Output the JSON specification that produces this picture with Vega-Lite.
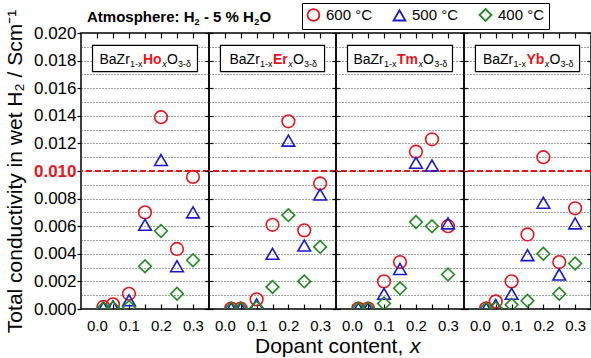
{
"$schema": "https://vega.github.io/schema/vega-lite/v6.json",
"padding": {"left": 3, "top": 2, "right": 0, "bottom": 0},
"spacing": 0,
"bounds": "flush",
"config": {"font": "Liberation Sans", "view": {"stroke": "black", "strokeWidth": 1.5}, "concat": {"spacing": 0}, "text": {"font": "Liberation Sans", "color": "black"}},
"datasets": {"pts": [
{"d":"Ho","T":"600 °C","x":0.02,"y":0.00015},{"d":"Ho","T":"600 °C","x":0.05,"y":0.00034},{"d":"Ho","T":"600 °C","x":0.1,"y":0.0011},{"d":"Ho","T":"600 °C","x":0.15,"y":0.0070},{"d":"Ho","T":"600 °C","x":0.2,"y":0.0139},{"d":"Ho","T":"600 °C","x":0.25,"y":0.00435},{"d":"Ho","T":"600 °C","x":0.3,"y":0.00957},
{"d":"Ho","T":"500 °C","x":0.02,"y":0.0001},{"d":"Ho","T":"500 °C","x":0.05,"y":0.0002},{"d":"Ho","T":"500 °C","x":0.1,"y":0.00063},{"d":"Ho","T":"500 °C","x":0.15,"y":0.0061},{"d":"Ho","T":"500 °C","x":0.2,"y":0.0108},{"d":"Ho","T":"500 °C","x":0.25,"y":0.0031},{"d":"Ho","T":"500 °C","x":0.3,"y":0.0070},
{"d":"Ho","T":"400 °C","x":0.02,"y":0.00005},{"d":"Ho","T":"400 °C","x":0.05,"y":0.0001},{"d":"Ho","T":"400 °C","x":0.1,"y":0.00015},{"d":"Ho","T":"400 °C","x":0.15,"y":0.0031},{"d":"Ho","T":"400 °C","x":0.2,"y":0.00565},{"d":"Ho","T":"400 °C","x":0.25,"y":0.0011},{"d":"Ho","T":"400 °C","x":0.3,"y":0.00353},
{"d":"Er","T":"600 °C","x":0.02,"y":0.00003},{"d":"Er","T":"600 °C","x":0.05,"y":0.00003},{"d":"Er","T":"600 °C","x":0.1,"y":0.0007},{"d":"Er","T":"600 °C","x":0.15,"y":0.0061},{"d":"Er","T":"600 °C","x":0.2,"y":0.0136},{"d":"Er","T":"600 °C","x":0.25,"y":0.0057},{"d":"Er","T":"600 °C","x":0.3,"y":0.0091},
{"d":"Er","T":"500 °C","x":0.02,"y":0.00005},{"d":"Er","T":"500 °C","x":0.05,"y":0.00005},{"d":"Er","T":"500 °C","x":0.1,"y":0.00034},{"d":"Er","T":"500 °C","x":0.15,"y":0.0040},{"d":"Er","T":"500 °C","x":0.2,"y":0.0122},{"d":"Er","T":"500 °C","x":0.25,"y":0.0046},{"d":"Er","T":"500 °C","x":0.3,"y":0.0083},
{"d":"Er","T":"400 °C","x":0.02,"y":0.00002},{"d":"Er","T":"400 °C","x":0.05,"y":0.00002},{"d":"Er","T":"400 °C","x":0.1,"y":0.0001},{"d":"Er","T":"400 °C","x":0.15,"y":0.0016},{"d":"Er","T":"400 °C","x":0.2,"y":0.0068},{"d":"Er","T":"400 °C","x":0.25,"y":0.0020},{"d":"Er","T":"400 °C","x":0.3,"y":0.0045},
{"d":"Tm","T":"600 °C","x":0.02,"y":0.00003},{"d":"Tm","T":"600 °C","x":0.05,"y":0.00003},{"d":"Tm","T":"600 °C","x":0.1,"y":0.0020},{"d":"Tm","T":"600 °C","x":0.15,"y":0.0034},{"d":"Tm","T":"600 °C","x":0.2,"y":0.0114},{"d":"Tm","T":"600 °C","x":0.25,"y":0.0123},{"d":"Tm","T":"600 °C","x":0.3,"y":0.0060},
{"d":"Tm","T":"500 °C","x":0.02,"y":0.00005},{"d":"Tm","T":"500 °C","x":0.05,"y":0.00005},{"d":"Tm","T":"500 °C","x":0.1,"y":0.0011},{"d":"Tm","T":"500 °C","x":0.15,"y":0.0029},{"d":"Tm","T":"500 °C","x":0.2,"y":0.0106},{"d":"Tm","T":"500 °C","x":0.25,"y":0.0104},{"d":"Tm","T":"500 °C","x":0.3,"y":0.0062},
{"d":"Tm","T":"400 °C","x":0.02,"y":0.00002},{"d":"Tm","T":"400 °C","x":0.05,"y":0.00002},{"d":"Tm","T":"400 °C","x":0.1,"y":0.0004},{"d":"Tm","T":"400 °C","x":0.15,"y":0.0015},{"d":"Tm","T":"400 °C","x":0.2,"y":0.0063},{"d":"Tm","T":"400 °C","x":0.25,"y":0.0060},{"d":"Tm","T":"400 °C","x":0.3,"y":0.0025},
{"d":"Yb","T":"600 °C","x":0.02,"y":0.00005},{"d":"Yb","T":"600 °C","x":0.05,"y":0.00055},{"d":"Yb","T":"600 °C","x":0.1,"y":0.0020},{"d":"Yb","T":"600 °C","x":0.15,"y":0.0054},{"d":"Yb","T":"600 °C","x":0.2,"y":0.0110},{"d":"Yb","T":"600 °C","x":0.25,"y":0.0034},{"d":"Yb","T":"600 °C","x":0.3,"y":0.0073},
{"d":"Yb","T":"500 °C","x":0.02,"y":0.00005},{"d":"Yb","T":"500 °C","x":0.05,"y":0.0003},{"d":"Yb","T":"500 °C","x":0.1,"y":0.0011},{"d":"Yb","T":"500 °C","x":0.15,"y":0.0039},{"d":"Yb","T":"500 °C","x":0.2,"y":0.0077},{"d":"Yb","T":"500 °C","x":0.25,"y":0.0025},{"d":"Yb","T":"500 °C","x":0.3,"y":0.0062},
{"d":"Yb","T":"400 °C","x":0.02,"y":0.00002},{"d":"Yb","T":"400 °C","x":0.05,"y":0.00005},{"d":"Yb","T":"400 °C","x":0.1,"y":0.0003},{"d":"Yb","T":"400 °C","x":0.15,"y":0.0006},{"d":"Yb","T":"400 °C","x":0.2,"y":0.0040},{"d":"Yb","T":"400 °C","x":0.25,"y":0.0011},{"d":"Yb","T":"400 °C","x":0.3,"y":0.0033}
]},
"resolve": {"scale": {"color": "shared", "shape": "shared"}, "legend": {"color": "shared", "shape": "shared"}},
"hconcat": [
{"width": 128, "height": 276, "view": {"stroke": "black", "strokeWidth": 1.5},
 "resolve": {"axis": {"x": "independent", "y": "independent"}},
 "layer": [
  {"data": {"values": [{}]}, "mark": {"type": "rule", "color": "#e8141c", "strokeWidth": 2, "strokeDash": [6, 3]},
   "encoding": {"y": {"datum": 0.01, "type": "quantitative", "scale": {"domain": [0, 0.02], "nice": false},
     "axis": {"orient": "left", "values": [0.001,0.002,0.003,0.004,0.005,0.006,0.007,0.008,0.009,0.01,0.011,0.012,0.013,0.014,0.015,0.016,0.017,0.018,0.019], "grid": true, "gridDash": [1, 2], "gridColor": "#444", "gridWidth": 1, "ticks": false, "labels": false, "domain": false, "title": null}}}},
  {"data": {"values": [{}]}, "mark": {"type": "rect", "fill": "white", "stroke": "black", "strokeWidth": 1.2},
   "encoding": {
    "x": {"datum": -0.014, "type": "quantitative", "scale": {"domain": [-0.05, 0.35], "nice": false, "zero": false},
      "axis": {"orient": "top", "values": [0,0.05,0.1,0.15,0.2,0.25,0.3], "tickSize": -5, "tickColor": "black", "tickWidth": 1.2, "labels": false, "domain": false, "grid": false, "title": null}},
    "x2": {"datum": 0.314},
    "y": {"datum": 0.0191, "type": "quantitative", "scale": {"domain": [0, 0.02], "nice": false},
      "axis": {"orient": "right", "values": [0,0.002,0.004,0.006,0.008,0.01,0.012,0.014,0.016,0.018,0.02], "tickSize": 4, "tickColor": "black", "tickWidth": 1.2, "labels": false, "domain": false, "grid": false, "title": null}},
    "y2": {"datum": 0.0172}}},
  {"data": {"name": "pts"}, "transform": [{"filter": "datum.d === 'Ho'"}],
   "mark": {"type": "point", "filled": false, "size": 160, "strokeWidth": 1.6, "clip": true, "opacity": 1},
   "encoding": {
    "x": {"field": "x", "type": "quantitative", "scale": {"domain": [-0.05, 0.35], "nice": false, "zero": false},
      "axis": {"orient": "bottom", "values": [0,0.05,0.1,0.15,0.2,0.25,0.3], "labelExpr": "abs(datum.value*10 - round(datum.value*10)) < 0.01 ? format(datum.value, '.1f') : ''", "tickSize": -5, "tickColor": "black", "tickWidth": 1.2, "labelPadding": 14, "labelFontSize": 15, "labelColor": "black", "labelOverlap": false, "labelFlush": false, "labelBound": false, "domain": false, "grid": false, "title": null}},
    "y": {"field": "y", "type": "quantitative", "scale": {"domain": [0, 0.02], "nice": false},
      "axis": {"orient": "left", "values": [0,0.002,0.004,0.006,0.008,0.01,0.012,0.014,0.016,0.018,0.02], "format": ".3f", "tickSize": 4, "tickColor": "black", "tickWidth": 1.2, "labelPadding": 1, "labelFontSize": 17, "labelOverlap": false,
        "labelColor": {"condition": {"test": "abs(datum.value - 0.01) < 0.00001", "value": "#e8141c"}, "value": "black"},
        "labelFontWeight": {"condition": {"test": "abs(datum.value - 0.01) < 0.00001", "value": "bold"}, "value": "normal"},
        "domain": false, "grid": false, "title": "Total conductivity in wet H₂ / Scm⁻¹", "titleFontSize": 21, "titleFontWeight": "normal", "titleColor": "black", "titlePadding": 8}},
    "color": {"field": "T", "type": "nominal", "scale": {"domain": ["600 °C", "500 °C", "400 °C"], "range": ["#e8141c", "#1a1acd", "#1f8a1f"]},
      "legend": {"orient": "none", "legendX": 221, "legendY": -30, "direction": "horizontal", "title": null, "strokeColor": "black", "fillColor": "white", "padding": 4, "symbolSize": 140, "symbolStrokeWidth": 1.8, "labelFontSize": 15, "labelOffset": 5, "columnPadding": 16,
        "encode": {"labels": {"update": {"fill": {"signal": "datum.value === '600 °C' ? '#e8141c' : datum.value === '500 °C' ? '#1a1acd' : '#1f8a1f'"}}}, "legend": {"update": {"strokeWidth": {"value": 1.5}}}}}},
    "shape": {"field": "T", "type": "nominal", "scale": {"domain": ["600 °C", "500 °C", "400 °C"], "range": ["circle", "triangle-up", "diamond"]},
      "legend": {"orient": "none", "legendX": 221, "legendY": -30, "direction": "horizontal", "title": null, "strokeColor": "black", "fillColor": "white", "padding": 4, "symbolSize": 140, "symbolStrokeWidth": 1.8, "labelFontSize": 15, "labelOffset": 5, "columnPadding": 16,
        "encode": {"labels": {"update": {"fill": {"signal": "datum.value === '600 °C' ? '#e8141c' : datum.value === '500 °C' ? '#1a1acd' : '#1f8a1f'"}}}, "legend": {"update": {"strokeWidth": {"value": 1.5}}}}}}}},
  {"data": {"values": [{}]}, "mark": {"type": "text", "text": "BaZr", "align": "left", "baseline": "alphabetic", "fontSize": 14, "dx": 18.5},
   "encoding": {"x": {"datum": -0.05, "type": "quantitative", "axis": null}, "y": {"datum": 0.01778, "type": "quantitative", "axis": null}}},
  {"data": {"values": [{}]}, "mark": {"type": "text", "text": "1-x", "align": "left", "baseline": "alphabetic", "fontSize": 9, "dx": 49, "dy": 3},
   "encoding": {"x": {"datum": -0.05, "type": "quantitative", "axis": null}, "y": {"datum": 0.01778, "type": "quantitative", "axis": null}}},
  {"data": {"values": [{}]}, "mark": {"type": "text", "text": "Ho", "align": "left", "baseline": "alphabetic", "fontSize": 14, "fontWeight": "bold", "color": "#e8141c", "dx": 62},
   "encoding": {"x": {"datum": -0.05, "type": "quantitative", "axis": null}, "y": {"datum": 0.01778, "type": "quantitative", "axis": null}}},
  {"data": {"values": [{}]}, "mark": {"type": "text", "text": "x", "align": "left", "baseline": "alphabetic", "fontSize": 9, "fontStyle": "italic", "dx": 81.2, "dy": 3},
   "encoding": {"x": {"datum": -0.05, "type": "quantitative", "axis": null}, "y": {"datum": 0.01778, "type": "quantitative", "axis": null}}},
  {"data": {"values": [{}]}, "mark": {"type": "text", "text": "O", "align": "left", "baseline": "alphabetic", "fontSize": 14, "dx": 85.9},
   "encoding": {"x": {"datum": -0.05, "type": "quantitative", "axis": null}, "y": {"datum": 0.01778, "type": "quantitative", "axis": null}}},
  {"data": {"values": [{}]}, "mark": {"type": "text", "text": "3-δ", "align": "left", "baseline": "alphabetic", "fontSize": 9, "dx": 97, "dy": 3},
   "encoding": {"x": {"datum": -0.05, "type": "quantitative", "axis": null}, "y": {"datum": 0.01778, "type": "quantitative", "axis": null}}},
  {"data": {"values": [{}]}, "mark": {"type": "text", "text": "Atmosphere: H", "align": "left", "baseline": "alphabetic", "fontSize": 15, "fontWeight": "bold", "dx": 6, "dy": -11.3},
   "encoding": {"x": {"datum": -0.05, "type": "quantitative", "axis": null}, "y": {"datum": 0.02, "type": "quantitative", "axis": null}}},
  {"data": {"values": [{}]}, "mark": {"type": "text", "text": "2", "align": "left", "baseline": "alphabetic", "fontSize": 9, "fontWeight": "bold", "dx": 113.5, "dy": -8.5},
   "encoding": {"x": {"datum": -0.05, "type": "quantitative", "axis": null}, "y": {"datum": 0.02, "type": "quantitative", "axis": null}}},
  {"data": {"values": [{}]}, "mark": {"type": "text", "text": "- 5 % H", "align": "left", "baseline": "alphabetic", "fontSize": 15, "fontWeight": "bold", "dx": 122.9, "dy": -11.3},
   "encoding": {"x": {"datum": -0.05, "type": "quantitative", "axis": null}, "y": {"datum": 0.02, "type": "quantitative", "axis": null}}},
  {"data": {"values": [{}]}, "mark": {"type": "text", "text": "2", "align": "left", "baseline": "alphabetic", "fontSize": 9, "fontWeight": "bold", "dx": 173.2, "dy": -8.5},
   "encoding": {"x": {"datum": -0.05, "type": "quantitative", "axis": null}, "y": {"datum": 0.02, "type": "quantitative", "axis": null}}},
  {"data": {"values": [{}]}, "mark": {"type": "text", "text": "O", "align": "left", "baseline": "alphabetic", "fontSize": 15, "fontWeight": "bold", "dx": 178.4, "dy": -11.3},
   "encoding": {"x": {"datum": -0.05, "type": "quantitative", "axis": null}, "y": {"datum": 0.02, "type": "quantitative", "axis": null}}}
 ]},
{"width": 127, "height": 276, "view": {"stroke": "black", "strokeWidth": 1.5},
 "resolve": {"axis": {"x": "independent", "y": "independent"}},
 "layer": [
  {"data": {"values": [{}]}, "mark": {"type": "rule", "color": "#e8141c", "strokeWidth": 2, "strokeDash": [6, 3]},
   "encoding": {"y": {"datum": 0.01, "type": "quantitative", "scale": {"domain": [0, 0.02], "nice": false},
     "axis": {"orient": "left", "values": [0.001,0.002,0.003,0.004,0.005,0.006,0.007,0.008,0.009,0.01,0.011,0.012,0.013,0.014,0.015,0.016,0.017,0.018,0.019], "grid": true, "gridDash": [1, 2], "gridColor": "#444", "gridWidth": 1, "ticks": false, "labels": false, "domain": false, "title": null}}}},
  {"data": {"values": [{}]}, "mark": {"type": "rect", "fill": "white", "stroke": "black", "strokeWidth": 1.2},
   "encoding": {
    "x": {"datum": -0.014, "type": "quantitative", "scale": {"domain": [-0.05, 0.35], "nice": false, "zero": false},
      "axis": {"orient": "top", "values": [0,0.05,0.1,0.15,0.2,0.25,0.3], "tickSize": -5, "tickColor": "black", "tickWidth": 1.2, "labels": false, "domain": false, "grid": false, "title": null}},
    "x2": {"datum": 0.314},
    "y": {"datum": 0.0191, "type": "quantitative", "scale": {"domain": [0, 0.02], "nice": false},
      "axis": {"orient": "right", "values": [0,0.002,0.004,0.006,0.008,0.01,0.012,0.014,0.016,0.018,0.02], "tickSize": 4, "tickColor": "black", "tickWidth": 1.2, "labels": false, "domain": false, "grid": false, "title": null}},
    "y2": {"datum": 0.0172}}},
  {"data": {"name": "pts"}, "transform": [{"filter": "datum.d === 'Er'"}],
   "mark": {"type": "point", "filled": false, "size": 160, "strokeWidth": 1.6, "clip": true, "opacity": 1},
   "encoding": {
    "x": {"field": "x", "type": "quantitative", "scale": {"domain": [-0.05, 0.35], "nice": false, "zero": false},
      "axis": {"orient": "bottom", "values": [0,0.05,0.1,0.15,0.2,0.25,0.3], "labelExpr": "abs(datum.value*10 - round(datum.value*10)) < 0.01 ? format(datum.value, '.1f') : ''", "tickSize": -5, "tickColor": "black", "tickWidth": 1.2, "labelPadding": 14, "labelFontSize": 15, "labelColor": "black", "labelOverlap": false, "labelFlush": false, "labelBound": false, "domain": false, "grid": false, "title": null}},
    "y": {"field": "y", "type": "quantitative", "scale": {"domain": [0, 0.02], "nice": false},
      "axis": {"orient": "left", "values": [0,0.002,0.004,0.006,0.008,0.01,0.012,0.014,0.016,0.018,0.02], "tickSize": 4, "tickColor": "black", "tickWidth": 1.2, "labels": false, "domain": false, "grid": false, "title": null}},
    "color": {"field": "T", "type": "nominal", "scale": {"domain": ["600 °C", "500 °C", "400 °C"], "range": ["#e8141c", "#1a1acd", "#1f8a1f"]},
      "legend": {"orient": "none", "legendX": 221, "legendY": -30, "direction": "horizontal", "title": null, "strokeColor": "black", "fillColor": "white", "padding": 4, "symbolSize": 140, "symbolStrokeWidth": 1.8, "labelFontSize": 15, "labelOffset": 5, "columnPadding": 16,
        "encode": {"labels": {"update": {"fill": {"signal": "datum.value === '600 °C' ? '#e8141c' : datum.value === '500 °C' ? '#1a1acd' : '#1f8a1f'"}}}, "legend": {"update": {"strokeWidth": {"value": 1.5}}}}}},
    "shape": {"field": "T", "type": "nominal", "scale": {"domain": ["600 °C", "500 °C", "400 °C"], "range": ["circle", "triangle-up", "diamond"]},
      "legend": {"orient": "none", "legendX": 221, "legendY": -30, "direction": "horizontal", "title": null, "strokeColor": "black", "fillColor": "white", "padding": 4, "symbolSize": 140, "symbolStrokeWidth": 1.8, "labelFontSize": 15, "labelOffset": 5, "columnPadding": 16,
        "encode": {"labels": {"update": {"fill": {"signal": "datum.value === '600 °C' ? '#e8141c' : datum.value === '500 °C' ? '#1a1acd' : '#1f8a1f'"}}}, "legend": {"update": {"strokeWidth": {"value": 1.5}}}}}}}},
  {"data": {"values": [{}]}, "mark": {"type": "text", "text": "BaZr", "align": "left", "baseline": "alphabetic", "fontSize": 14, "dx": 20.5},
   "encoding": {"x": {"datum": -0.05, "type": "quantitative", "axis": null}, "y": {"datum": 0.01778, "type": "quantitative", "axis": null}}},
  {"data": {"values": [{}]}, "mark": {"type": "text", "text": "1-x", "align": "left", "baseline": "alphabetic", "fontSize": 9, "dx": 51, "dy": 3},
   "encoding": {"x": {"datum": -0.05, "type": "quantitative", "axis": null}, "y": {"datum": 0.01778, "type": "quantitative", "axis": null}}},
  {"data": {"values": [{}]}, "mark": {"type": "text", "text": "Er", "align": "left", "baseline": "alphabetic", "fontSize": 14, "fontWeight": "bold", "color": "#e8141c", "dx": 64},
   "encoding": {"x": {"datum": -0.05, "type": "quantitative", "axis": null}, "y": {"datum": 0.01778, "type": "quantitative", "axis": null}}},
  {"data": {"values": [{}]}, "mark": {"type": "text", "text": "x", "align": "left", "baseline": "alphabetic", "fontSize": 9, "fontStyle": "italic", "dx": 79.3, "dy": 3},
   "encoding": {"x": {"datum": -0.05, "type": "quantitative", "axis": null}, "y": {"datum": 0.01778, "type": "quantitative", "axis": null}}},
  {"data": {"values": [{}]}, "mark": {"type": "text", "text": "O", "align": "left", "baseline": "alphabetic", "fontSize": 14, "dx": 84},
   "encoding": {"x": {"datum": -0.05, "type": "quantitative", "axis": null}, "y": {"datum": 0.01778, "type": "quantitative", "axis": null}}},
  {"data": {"values": [{}]}, "mark": {"type": "text", "text": "3-δ", "align": "left", "baseline": "alphabetic", "fontSize": 9, "dx": 95.1, "dy": 3},
   "encoding": {"x": {"datum": -0.05, "type": "quantitative", "axis": null}, "y": {"datum": 0.01778, "type": "quantitative", "axis": null}}},
  {"data": {"values": [{}]}, "mark": {"type": "text", "text": "Dopant content,", "align": "left", "baseline": "alphabetic", "fontSize": 21, "dx": -81, "dy": 44},
   "encoding": {"x": {"datum": 0.35, "type": "quantitative", "axis": null}, "y": {"datum": 0, "type": "quantitative", "axis": null}}},
  {"data": {"values": [{}]}, "mark": {"type": "text", "text": "x", "align": "left", "baseline": "alphabetic", "fontSize": 21, "fontStyle": "italic", "dx": 74, "dy": 44},
   "encoding": {"x": {"datum": 0.35, "type": "quantitative", "axis": null}, "y": {"datum": 0, "type": "quantitative", "axis": null}}}
 ]},
{"width": 128, "height": 276, "view": {"stroke": "black", "strokeWidth": 1.5},
 "resolve": {"axis": {"x": "independent", "y": "independent"}},
 "layer": [
  {"data": {"values": [{}]}, "mark": {"type": "rule", "color": "#e8141c", "strokeWidth": 2, "strokeDash": [6, 3]},
   "encoding": {"y": {"datum": 0.01, "type": "quantitative", "scale": {"domain": [0, 0.02], "nice": false},
     "axis": {"orient": "left", "values": [0.001,0.002,0.003,0.004,0.005,0.006,0.007,0.008,0.009,0.01,0.011,0.012,0.013,0.014,0.015,0.016,0.017,0.018,0.019], "grid": true, "gridDash": [1, 2], "gridColor": "#444", "gridWidth": 1, "ticks": false, "labels": false, "domain": false, "title": null}}}},
  {"data": {"values": [{}]}, "mark": {"type": "rect", "fill": "white", "stroke": "black", "strokeWidth": 1.2},
   "encoding": {
    "x": {"datum": -0.014, "type": "quantitative", "scale": {"domain": [-0.05, 0.35], "nice": false, "zero": false},
      "axis": {"orient": "top", "values": [0,0.05,0.1,0.15,0.2,0.25,0.3], "tickSize": -5, "tickColor": "black", "tickWidth": 1.2, "labels": false, "domain": false, "grid": false, "title": null}},
    "x2": {"datum": 0.314},
    "y": {"datum": 0.0191, "type": "quantitative", "scale": {"domain": [0, 0.02], "nice": false},
      "axis": {"orient": "right", "values": [0,0.002,0.004,0.006,0.008,0.01,0.012,0.014,0.016,0.018,0.02], "tickSize": 4, "tickColor": "black", "tickWidth": 1.2, "labels": false, "domain": false, "grid": false, "title": null}},
    "y2": {"datum": 0.0172}}},
  {"data": {"name": "pts"}, "transform": [{"filter": "datum.d === 'Tm'"}],
   "mark": {"type": "point", "filled": false, "size": 160, "strokeWidth": 1.6, "clip": true, "opacity": 1},
   "encoding": {
    "x": {"field": "x", "type": "quantitative", "scale": {"domain": [-0.05, 0.35], "nice": false, "zero": false},
      "axis": {"orient": "bottom", "values": [0,0.05,0.1,0.15,0.2,0.25,0.3], "labelExpr": "abs(datum.value*10 - round(datum.value*10)) < 0.01 ? format(datum.value, '.1f') : ''", "tickSize": -5, "tickColor": "black", "tickWidth": 1.2, "labelPadding": 14, "labelFontSize": 15, "labelColor": "black", "labelOverlap": false, "labelFlush": false, "labelBound": false, "domain": false, "grid": false, "title": null}},
    "y": {"field": "y", "type": "quantitative", "scale": {"domain": [0, 0.02], "nice": false},
      "axis": {"orient": "left", "values": [0,0.002,0.004,0.006,0.008,0.01,0.012,0.014,0.016,0.018,0.02], "tickSize": 4, "tickColor": "black", "tickWidth": 1.2, "labels": false, "domain": false, "grid": false, "title": null}},
    "color": {"field": "T", "type": "nominal", "scale": {"domain": ["600 °C", "500 °C", "400 °C"], "range": ["#e8141c", "#1a1acd", "#1f8a1f"]},
      "legend": {"orient": "none", "legendX": 221, "legendY": -30, "direction": "horizontal", "title": null, "strokeColor": "black", "fillColor": "white", "padding": 4, "symbolSize": 140, "symbolStrokeWidth": 1.8, "labelFontSize": 15, "labelOffset": 5, "columnPadding": 16,
        "encode": {"labels": {"update": {"fill": {"signal": "datum.value === '600 °C' ? '#e8141c' : datum.value === '500 °C' ? '#1a1acd' : '#1f8a1f'"}}}, "legend": {"update": {"strokeWidth": {"value": 1.5}}}}}},
    "shape": {"field": "T", "type": "nominal", "scale": {"domain": ["600 °C", "500 °C", "400 °C"], "range": ["circle", "triangle-up", "diamond"]},
      "legend": {"orient": "none", "legendX": 221, "legendY": -30, "direction": "horizontal", "title": null, "strokeColor": "black", "fillColor": "white", "padding": 4, "symbolSize": 140, "symbolStrokeWidth": 1.8, "labelFontSize": 15, "labelOffset": 5, "columnPadding": 16,
        "encode": {"labels": {"update": {"fill": {"signal": "datum.value === '600 °C' ? '#e8141c' : datum.value === '500 °C' ? '#1a1acd' : '#1f8a1f'"}}}, "legend": {"update": {"strokeWidth": {"value": 1.5}}}}}}}},
  {"data": {"values": [{}]}, "mark": {"type": "text", "text": "BaZr", "align": "left", "baseline": "alphabetic", "fontSize": 14, "dx": 17.4},
   "encoding": {"x": {"datum": -0.05, "type": "quantitative", "axis": null}, "y": {"datum": 0.01778, "type": "quantitative", "axis": null}}},
  {"data": {"values": [{}]}, "mark": {"type": "text", "text": "1-x", "align": "left", "baseline": "alphabetic", "fontSize": 9, "dx": 47.9, "dy": 3},
   "encoding": {"x": {"datum": -0.05, "type": "quantitative", "axis": null}, "y": {"datum": 0.01778, "type": "quantitative", "axis": null}}},
  {"data": {"values": [{}]}, "mark": {"type": "text", "text": "Tm", "align": "left", "baseline": "alphabetic", "fontSize": 14, "fontWeight": "bold", "color": "#e8141c", "dx": 60.9},
   "encoding": {"x": {"datum": -0.05, "type": "quantitative", "axis": null}, "y": {"datum": 0.01778, "type": "quantitative", "axis": null}}},
  {"data": {"values": [{}]}, "mark": {"type": "text", "text": "x", "align": "left", "baseline": "alphabetic", "fontSize": 9, "fontStyle": "italic", "dx": 82.4, "dy": 3},
   "encoding": {"x": {"datum": -0.05, "type": "quantitative", "axis": null}, "y": {"datum": 0.01778, "type": "quantitative", "axis": null}}},
  {"data": {"values": [{}]}, "mark": {"type": "text", "text": "O", "align": "left", "baseline": "alphabetic", "fontSize": 14, "dx": 87.1},
   "encoding": {"x": {"datum": -0.05, "type": "quantitative", "axis": null}, "y": {"datum": 0.01778, "type": "quantitative", "axis": null}}},
  {"data": {"values": [{}]}, "mark": {"type": "text", "text": "3-δ", "align": "left", "baseline": "alphabetic", "fontSize": 9, "dx": 98.2, "dy": 3},
   "encoding": {"x": {"datum": -0.05, "type": "quantitative", "axis": null}, "y": {"datum": 0.01778, "type": "quantitative", "axis": null}}}
 ]},
{"width": 127, "height": 276, "view": {"stroke": "black", "strokeWidth": 1.5},
 "resolve": {"axis": {"x": "independent", "y": "independent"}},
 "layer": [
  {"data": {"values": [{}]}, "mark": {"type": "rule", "color": "#e8141c", "strokeWidth": 2, "strokeDash": [6, 3]},
   "encoding": {"y": {"datum": 0.01, "type": "quantitative", "scale": {"domain": [0, 0.02], "nice": false},
     "axis": {"orient": "left", "values": [0.001,0.002,0.003,0.004,0.005,0.006,0.007,0.008,0.009,0.01,0.011,0.012,0.013,0.014,0.015,0.016,0.017,0.018,0.019], "grid": true, "gridDash": [1, 2], "gridColor": "#444", "gridWidth": 1, "ticks": false, "labels": false, "domain": false, "title": null}}}},
  {"data": {"values": [{}]}, "mark": {"type": "rect", "fill": "white", "stroke": "black", "strokeWidth": 1.2},
   "encoding": {
    "x": {"datum": -0.014, "type": "quantitative", "scale": {"domain": [-0.05, 0.35], "nice": false, "zero": false},
      "axis": {"orient": "top", "values": [0,0.05,0.1,0.15,0.2,0.25,0.3], "tickSize": -5, "tickColor": "black", "tickWidth": 1.2, "labels": false, "domain": false, "grid": false, "title": null}},
    "x2": {"datum": 0.314},
    "y": {"datum": 0.0191, "type": "quantitative", "scale": {"domain": [0, 0.02], "nice": false},
      "axis": {"orient": "right", "values": [0,0.002,0.004,0.006,0.008,0.01,0.012,0.014,0.016,0.018,0.02], "tickSize": -4, "labelPadding": 8, "tickColor": "black", "tickWidth": 1.2, "labels": false, "domain": false, "grid": false, "title": null}},
    "y2": {"datum": 0.0172}}},
  {"data": {"name": "pts"}, "transform": [{"filter": "datum.d === 'Yb'"}],
   "mark": {"type": "point", "filled": false, "size": 160, "strokeWidth": 1.6, "clip": true, "opacity": 1},
   "encoding": {
    "x": {"field": "x", "type": "quantitative", "scale": {"domain": [-0.05, 0.35], "nice": false, "zero": false},
      "axis": {"orient": "bottom", "values": [0,0.05,0.1,0.15,0.2,0.25,0.3], "labelExpr": "abs(datum.value*10 - round(datum.value*10)) < 0.01 ? format(datum.value, '.1f') : ''", "tickSize": -5, "tickColor": "black", "tickWidth": 1.2, "labelPadding": 14, "labelFontSize": 15, "labelColor": "black", "labelOverlap": false, "labelFlush": false, "labelBound": false, "domain": false, "grid": false, "title": null}},
    "y": {"field": "y", "type": "quantitative", "scale": {"domain": [0, 0.02], "nice": false},
      "axis": {"orient": "left", "values": [0,0.002,0.004,0.006,0.008,0.01,0.012,0.014,0.016,0.018,0.02], "tickSize": 4, "tickColor": "black", "tickWidth": 1.2, "labels": false, "domain": false, "grid": false, "title": null}},
    "color": {"field": "T", "type": "nominal", "scale": {"domain": ["600 °C", "500 °C", "400 °C"], "range": ["#e8141c", "#1a1acd", "#1f8a1f"]},
      "legend": {"orient": "none", "legendX": 221, "legendY": -30, "direction": "horizontal", "title": null, "strokeColor": "black", "fillColor": "white", "padding": 4, "symbolSize": 140, "symbolStrokeWidth": 1.8, "labelFontSize": 15, "labelOffset": 5, "columnPadding": 16,
        "encode": {"labels": {"update": {"fill": {"signal": "datum.value === '600 °C' ? '#e8141c' : datum.value === '500 °C' ? '#1a1acd' : '#1f8a1f'"}}}, "legend": {"update": {"strokeWidth": {"value": 1.5}}}}}},
    "shape": {"field": "T", "type": "nominal", "scale": {"domain": ["600 °C", "500 °C", "400 °C"], "range": ["circle", "triangle-up", "diamond"]},
      "legend": {"orient": "none", "legendX": 221, "legendY": -30, "direction": "horizontal", "title": null, "strokeColor": "black", "fillColor": "white", "padding": 4, "symbolSize": 140, "symbolStrokeWidth": 1.8, "labelFontSize": 15, "labelOffset": 5, "columnPadding": 16,
        "encode": {"labels": {"update": {"fill": {"signal": "datum.value === '600 °C' ? '#e8141c' : datum.value === '500 °C' ? '#1a1acd' : '#1f8a1f'"}}}, "legend": {"update": {"strokeWidth": {"value": 1.5}}}}}}}},
  {"data": {"values": [{}]}, "mark": {"type": "text", "text": "BaZr", "align": "left", "baseline": "alphabetic", "fontSize": 14, "dx": 18.9},
   "encoding": {"x": {"datum": -0.05, "type": "quantitative", "axis": null}, "y": {"datum": 0.01778, "type": "quantitative", "axis": null}}},
  {"data": {"values": [{}]}, "mark": {"type": "text", "text": "1-x", "align": "left", "baseline": "alphabetic", "fontSize": 9, "dx": 49.4, "dy": 3},
   "encoding": {"x": {"datum": -0.05, "type": "quantitative", "axis": null}, "y": {"datum": 0.01778, "type": "quantitative", "axis": null}}},
  {"data": {"values": [{}]}, "mark": {"type": "text", "text": "Yb", "align": "left", "baseline": "alphabetic", "fontSize": 14, "fontWeight": "bold", "color": "#e8141c", "dx": 62.4},
   "encoding": {"x": {"datum": -0.05, "type": "quantitative", "axis": null}, "y": {"datum": 0.01778, "type": "quantitative", "axis": null}}},
  {"data": {"values": [{}]}, "mark": {"type": "text", "text": "x", "align": "left", "baseline": "alphabetic", "fontSize": 9, "fontStyle": "italic", "dx": 80.8, "dy": 3},
   "encoding": {"x": {"datum": -0.05, "type": "quantitative", "axis": null}, "y": {"datum": 0.01778, "type": "quantitative", "axis": null}}},
  {"data": {"values": [{}]}, "mark": {"type": "text", "text": "O", "align": "left", "baseline": "alphabetic", "fontSize": 14, "dx": 85.5},
   "encoding": {"x": {"datum": -0.05, "type": "quantitative", "axis": null}, "y": {"datum": 0.01778, "type": "quantitative", "axis": null}}},
  {"data": {"values": [{}]}, "mark": {"type": "text", "text": "3-δ", "align": "left", "baseline": "alphabetic", "fontSize": 9, "dx": 96.6, "dy": 3},
   "encoding": {"x": {"datum": -0.05, "type": "quantitative", "axis": null}, "y": {"datum": 0.01778, "type": "quantitative", "axis": null}}}
 ]}
]
}
